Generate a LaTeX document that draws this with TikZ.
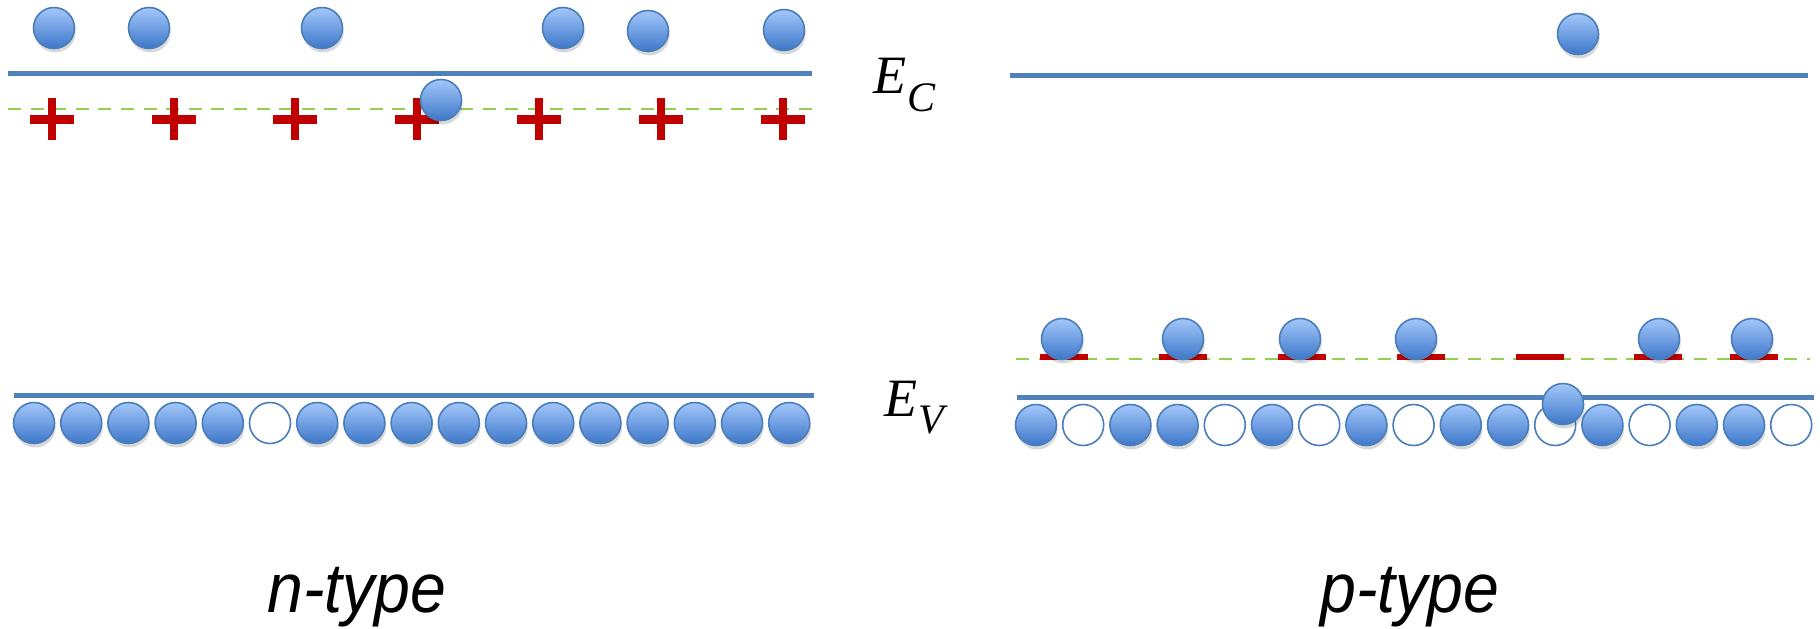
\documentclass[tikz,border=0pt]{standalone}
\usepackage{fontspec}
\newfontfamily\labelfont{Liberation Sans}
\newfontfamily\serifit{Liberation Serif}
\usetikzlibrary{shadows}
\definecolor{bandblue}{HTML}{4F81BD}
\definecolor{eborder}{HTML}{4A7EBB}
\definecolor{etop}{HTML}{A3C7FA}
\definecolor{ebot}{HTML}{3D77C9}
\definecolor{dgreen}{HTML}{92D050}
\definecolor{dred}{HTML}{C00000}
\tikzset{
  donorplus/.pic={
    \fill[dred] (-22,-4.5) rectangle (22,4.5);
    \fill[dred] (-4,-21) rectangle (4,21);
  }
}
\newcommand\EnergyLab[2]{{\serifit\itshape E\kern0.02em\raisebox{#2}{\fontsize{21}{24}\selectfont #1}}}
\begin{document}
\begin{tikzpicture}[x=0.5pt,y=-0.5pt,
  elec/.style={circle, draw=eborder, line width=0.8pt, minimum size=20.5pt, inner sep=0pt,
    top color=etop, bottom color=ebot,
    drop shadow={shadow xshift=0.6pt, shadow yshift=-2pt, opacity=0.15, fill=black}},
  hole/.style={circle, draw=eborder, line width=0.8pt, minimum size=20.5pt, inner sep=0pt, fill=white},
  band/.style={draw=bandblue, line width=2.5pt},
  level/.style={draw=dgreen, line width=1.4pt, dash pattern=on 6.5pt off 4.8pt},
  accbar/.style={rectangle, fill=dred, minimum width=24pt, minimum height=2.6pt, inner sep=0pt},
  elabel/.style={anchor=base west, inner sep=0pt, font=\fontsize{27}{30}\selectfont},
  typelabel/.style={anchor=base, inner sep=0pt, font=\labelfont\itshape\fontsize{35}{40}\selectfont}
]
\useasboundingbox (0,0) rectangle (1820,628);

% ---------- n-type ----------
\coordinate (ecL1) at (8,73);
\coordinate (ecL2) at (812,73);
\draw[band] (ecL1) -- (ecL2);
\coordinate (dL1) at (8,109);
\coordinate (dL2) at (812,109);
\draw[level] (dL1) -- (dL2);
\foreach \x [count=\i] in {52,173.5,295,417,539,661,783}
  \pic (plus\i) at (\x,119) {donorplus};
\foreach \x/\y [count=\i] in {54/28,149/28,322/28,563/28,648/31,784/30}
  \node[elec] (cL\i) at (\x,\y) {};
\node[elec] (exL) at (441,100) {};

\coordinate (evL1) at (14,395);
\coordinate (evL2) at (814,395);
\draw[band] (evL1) -- (evL2);
\foreach \s [count=\i from 0] in {elec,elec,elec,elec,elec,hole,elec,elec,elec,elec,elec,elec,elec,elec,elec,elec,elec}
  \node[\s] (vL\i) at ({34+47.2*\i},423) {};

% ---------- p-type ----------
\coordinate (ecR1) at (1010,75);
\coordinate (ecR2) at (1808,75);
\draw[band] (ecR1) -- (ecR2);
\node[elec] (cR1) at (1578,34) {};

\coordinate (aR1) at (1016,359);
\coordinate (aR2) at (1810,359);
\draw[level] (aR1) -- (aR2);
\foreach \x [count=\i] in {1064,1183,1302,1421,1540,1658,1754}
  \node[accbar] (bar\i) at (\x,357) {};
\foreach \x [count=\i] in {1062,1183,1300,1416,1659,1752}
  \node[elec] (aE\i) at (\x,339) {};

\coordinate (evR1) at (1017,397);
\coordinate (evR2) at (1814,397);
\draw[band] (evR1) -- (evR2);
\foreach \s [count=\i from 0] in {elec,hole,elec,elec,hole,elec,hole,elec,hole,elec,elec,hole,elec,hole,elec,elec,hole}
  \node[\s] (vR\i) at ({1036+47.2*\i},425) {};
\node[elec] (exR) at (1563,404) {};

% ---------- labels ----------
\node[elabel] (EC) at (873,93) {\EnergyLab{C}{-9pt}};
\node[elabel] (EV) at (884,416) {\EnergyLab{V}{-8.5pt}};
\node[typelabel] (ntype) at (357,612) {\scalebox{0.92}[1]{n-type}};
\node[typelabel] (ptype) at (1410,612) {\scalebox{0.92}[1]{p-type}};
\end{tikzpicture}
\end{document}
